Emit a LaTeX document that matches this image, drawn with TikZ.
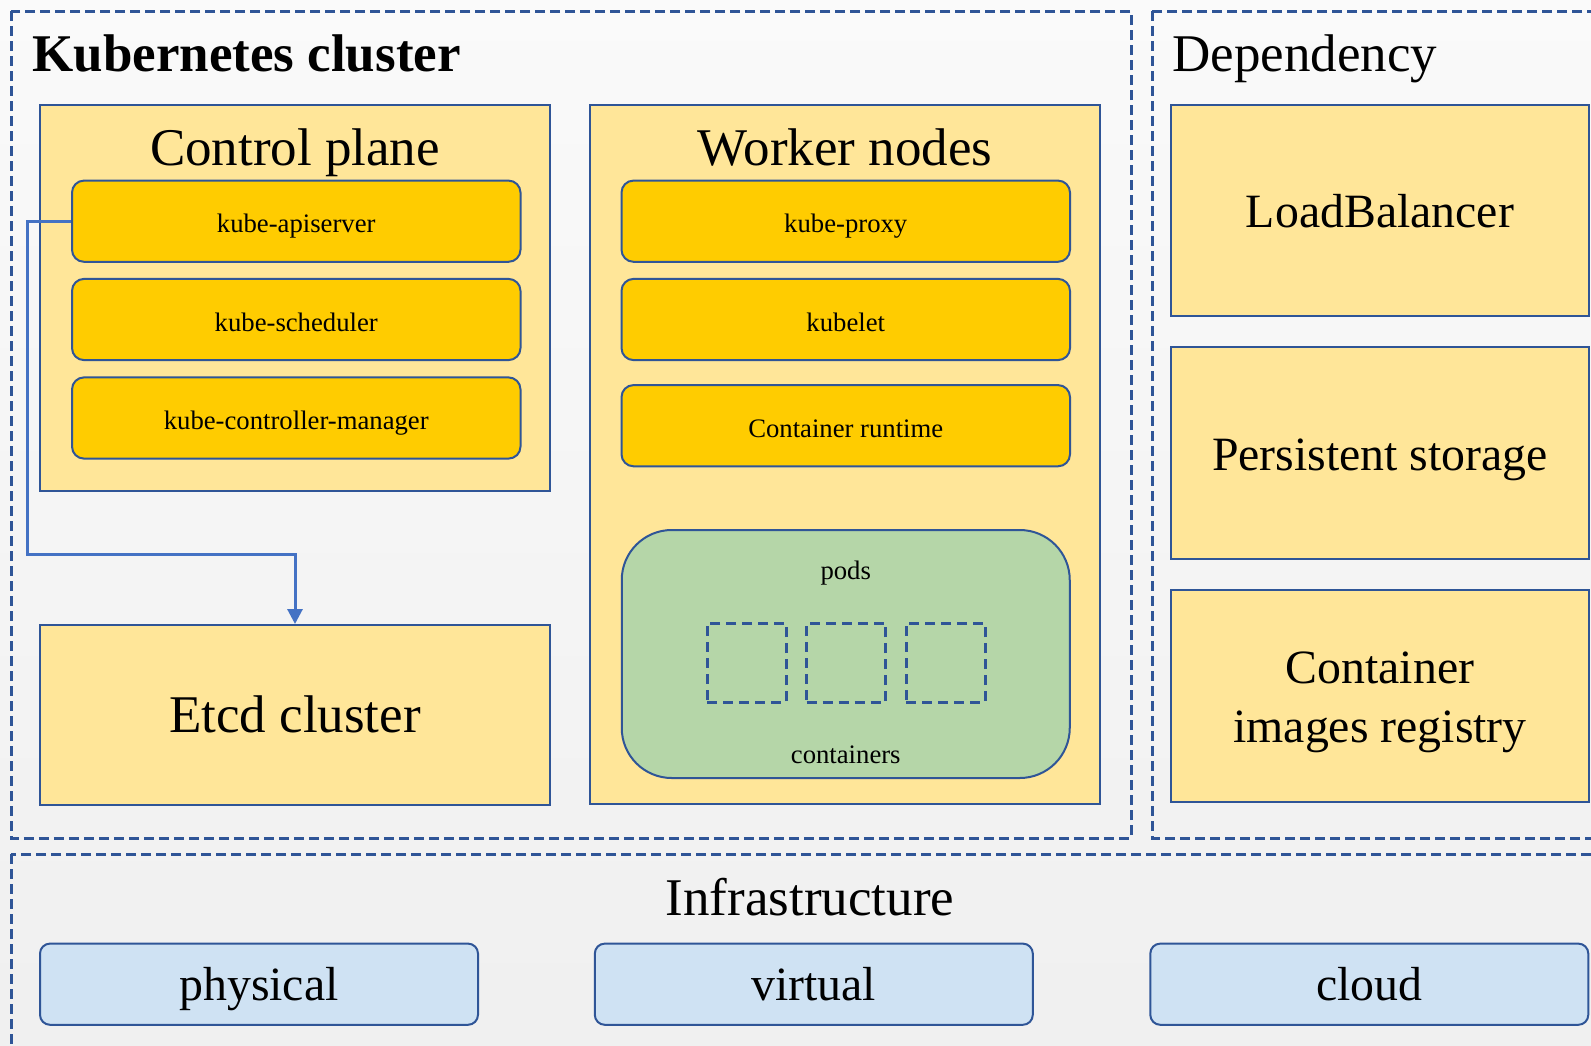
\documentclass[tikz,border=0pt]{standalone}
\usepackage{fontspec}
\setmainfont{Liberation Serif}
\usetikzlibrary{arrows.meta}

\definecolor{edgeblue}{HTML}{2F5597}
\definecolor{linkblue}{HTML}{4472C4}
\definecolor{paleyellow}{HTML}{FFE699}
\definecolor{goldfill}{HTML}{FFCC00}
\definecolor{podgreen}{HTML}{B5D6A8}
\definecolor{infrablue}{HTML}{CFE2F3}

\begin{document}
\begin{tikzpicture}[x=0.5pt, y=-0.5pt,
    frame/.style={draw=edgeblue, line width=1.5pt, dash pattern=on 5pt off 2.5pt},
    panel/.style={draw=edgeblue, line width=1pt, fill=paleyellow, align=center,
      font=\fontsize{23.9}{29.5}\selectfont},
    part/.style={draw=edgeblue, line width=1pt, fill=goldfill, rounded corners=6pt,
      minimum width=224.25pt, minimum height=40.6pt, text height=11.5pt, text depth=0pt,
      font=\fontsize{13.35}{16}\selectfont},
    infra/.style={draw=edgeblue, line width=1pt, fill=infrablue, rounded corners=5pt,
      minimum width=219pt, minimum height=40.6pt, text height=16pt, text depth=0pt,
      font=\fontsize{23.9}{28.5}\selectfont},
    slot/.style={draw=edgeblue, line width=1.5pt, dash pattern=on 5pt off 3pt, minimum size=39.5pt},
    heading/.style={inner sep=0pt, font=\fontsize{26.5}{32}\selectfont},
    note/.style={inner sep=0pt, font=\fontsize{13.35}{16}\selectfont},
    link/.style={draw=linkblue, line width=1.5pt, -{Triangle[length=7.5pt,width=7.5pt]}}]

  \clip (0,0) rectangle (1591,1045);
  \shade[top color=gray!4, bottom color=gray!12] (0,0) rectangle (1591,1045);

  \draw[frame] (11,11) rectangle (1131,838);
  \draw[frame] (1152,11) rectangle (1620,838);
  \draw[frame] (11,854) rectangle (1620,1070);

  \node[heading, anchor=base west, font=\fontsize{26.5}{32}\selectfont\bfseries] (kubetitle) at (32,71) {Kubernetes cluster};
  \node[heading, anchor=base west] (deptitle) at (1172,71) {Dependency};

  \node[panel, minimum width=255pt, minimum height=193.25pt] (cp) at (295,297.75) {};
  \node[heading, anchor=base] (cptitle) at (295,165) {Control plane};
  \node[part] (api) at (296.25,221.2) {kube-apiserver};
  \node[part] (sched) at (296.25,319.5) {kube-scheduler};
  \node[part] (ctrl) at (296.25,418) {kube-controller-manager};

  \node[panel, minimum width=255pt, minimum height=89.8pt, font=\fontsize{26.5}{32}\selectfont] (etcd) at (295,714.8) {Etcd cluster};

  \node[panel, minimum width=255.25pt, minimum height=349.5pt] (wn) at (844.75,454) {};
  \node[heading, anchor=base] (wntitle) at (845,165) {Worker nodes};
  \node[part] (proxy) at (845.75,221.2) {kube-proxy};
  \node[part] (kubelet) at (845.75,319.5) {kubelet};
  \node[part] (runtime) at (845.75,425.7) {Container runtime};

  \node[draw=edgeblue, line width=1pt, fill=podgreen, rounded corners=25pt,
    minimum width=224pt, minimum height=124pt] (pods) at (845.75,654) {};
  \node[note, anchor=base] (podslabel) at (845.75,579) {pods};
  \node[note, anchor=base] (contlabel) at (845.75,763) {containers};
  \foreach \i/\x in {1/746.7, 2/846.2, 3/945.6}
    \node[slot] (slot\i) at (\x,662.5) {};

  \coordinate (bend) at (27.5,554);
  \draw[link] (api.west) -| (bend) -| (etcd.north);

  \node[panel, minimum width=209pt, minimum height=105.5pt, text height=17pt, text depth=0pt] (lb) at (1380,210) {LoadBalancer};
  \node[panel, minimum width=209pt, minimum height=106pt, text height=17pt, text depth=0pt] (store) at (1380,453) {Persistent storage};
  \node[panel, minimum width=209pt, minimum height=106pt, text height=46.5pt, text depth=0pt] (registry) at (1380,695.5) {Container\\images registry};

  \node[heading, anchor=base] (infratitle) at (810,915) {Infrastructure};
  \node[infra] (physical) at (259,984.2) {physical};
  \node[infra] (virtual) at (813.8,984.2) {virtual};
  \node[infra] (cloud) at (1369.3,984.2) {cloud};
\end{tikzpicture}
\end{document}
